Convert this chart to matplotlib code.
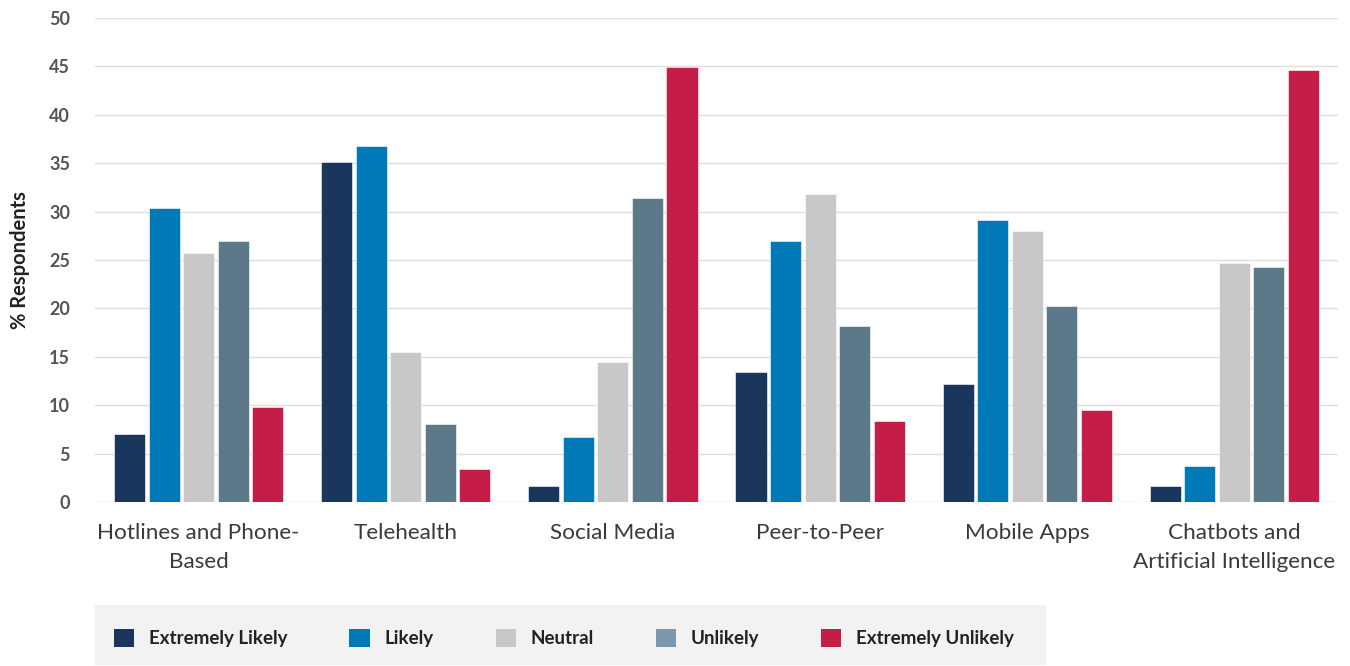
import matplotlib
matplotlib.use("Agg")
import matplotlib.pyplot as plt
import numpy as np
from matplotlib.patches import Rectangle, Patch

categories = ["Hotlines and Phone-\nBased", "Telehealth", "Social Media",
              "Peer-to-Peer", "Mobile Apps", "Chatbots and\nArtificial Intelligence"]
series_names = ["Extremely Likely", "Likely", "Neutral", "Unlikely", "Extremely Unlikely"]
extremely_likely = [7.0, 35.1, 1.7, 13.4, 12.2, 1.7]
likely = [30.4, 36.8, 6.7, 27.0, 29.1, 3.7]
neutral = [25.7, 15.5, 14.5, 31.8, 28.0, 24.7]
unlikely = [27.0, 8.1, 31.4, 18.2, 20.2, 24.3]
extremely_unlikely = [9.8, 3.4, 44.9, 8.4, 9.5, 44.6]
yticks = [0, 5, 10, 15, 20, 25, 30, 35, 40, 45, 50]

values = [extremely_likely, likely, neutral, unlikely, extremely_unlikely]
bar_colors = ["#1B365D", "#0079B8", "#C8C8C8", "#5D7889", "#C41E48"]
legend_colors = ["#1B365D", "#0079B8", "#C8C8C8", "#7B98AE", "#C41E48"]

plt.rcParams['font.family'] = ['Lato', 'DejaVu Sans']

fig = plt.figure(figsize=(13.5, 6.66), dpi=100)
ax = fig.add_axes([95/1350, 164/666, (1338-95)/1350, (502-18)/666])

x = np.arange(len(categories))
step = 0.1667
width = 0.15
for i, (vals, c) in enumerate(zip(values, bar_colors)):
    ax.bar(x + (i - 2) * step, vals, width=width, color=c, edgecolor="white",
           linewidth=0.4, zorder=3)

ax.set_xlim(-0.5, len(categories) - 0.5)
ax.set_ylim(0, 50)
ax.set_yticks(yticks)
ax.yaxis.grid(True, color="#DEDEDE", linewidth=1.0, zorder=0)
ax.set_axisbelow(True)
for s in ax.spines.values():
    s.set_visible(False)
ax.tick_params(axis="both", length=0)
ax.tick_params(axis="y", pad=18, labelsize=13, labelcolor="#555555")
for lbl in ax.get_yticklabels():
    lbl.set_fontweight("bold")
ax.set_xticks(x)
ax.set_xticklabels(categories, fontsize=16.2, color="#3A3A3A", linespacing=1.6)
ax.tick_params(axis="x", pad=15)
ax.set_ylabel("% Respondents", fontsize=14.5, fontweight="bold", color="#222222", labelpad=14)

# legend background
fig.patches.append(Rectangle((95/1350, 1/666), (1046-95)/1350, 60/666,
                             transform=fig.transFigure, facecolor="#F2F2F2",
                             edgecolor="none", zorder=0))
handles = [Patch(facecolor=c, edgecolor="none") for c in legend_colors]
leg = fig.legend(handles, series_names, loc="center left",
                 bbox_to_anchor=(114/1350, 28/666), ncol=5, frameon=False,
                 prop={"weight": "bold", "size": 13.5}, handlelength=1.07,
                 handleheight=1.07, handletextpad=0.8, columnspacing=3.3,
                 borderpad=0, borderaxespad=0)
for t in leg.get_texts():
    t.set_color("#222222")

fig.savefig("out.png", dpi=100)
